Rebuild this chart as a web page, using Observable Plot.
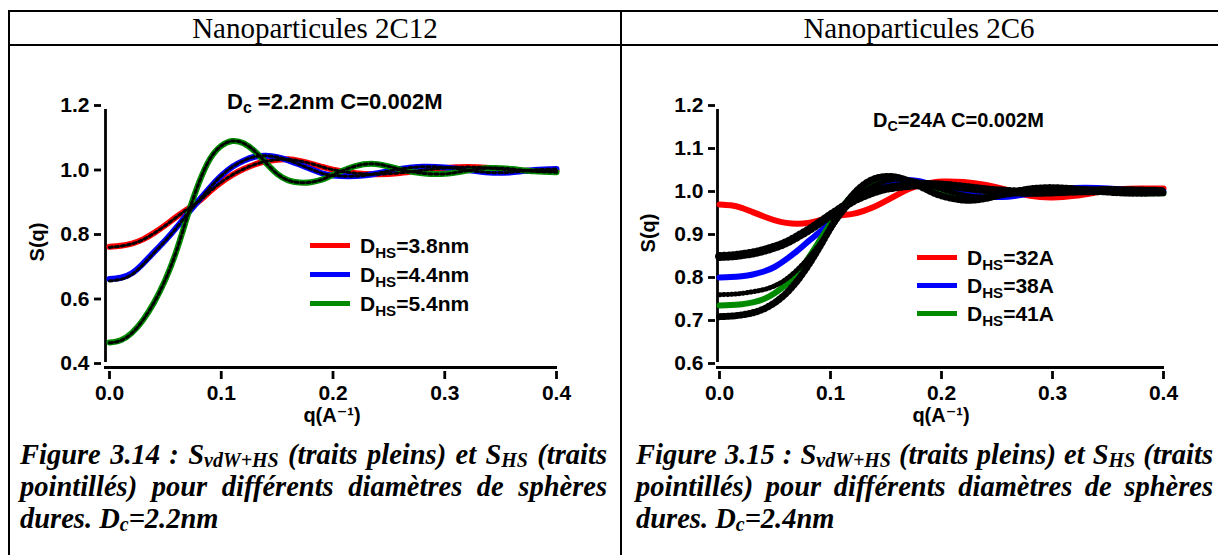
<!DOCTYPE html>
<html><head><meta charset="utf-8">
<script src="https://cdn.jsdelivr.net/npm/d3@7"></script>
<script src="https://cdn.jsdelivr.net/npm/@observablehq/plot@0.6"></script>
<style>
html,body{margin:0;padding:0;background:#fff;}
#page{position:relative;width:1218px;height:555px;overflow:hidden;background:#fff;font-family:"Liberation Sans",Arial,sans-serif;color:#000;}
.hl{position:absolute;background:#000;height:2px;z-index:5;}
.vl{position:absolute;background:#000;width:2px;z-index:5;}
.head{position:absolute;top:11px;height:34px;line-height:34px;text-align:center;font-family:"Liberation Serif","Times New Roman",serif;font-size:29px;white-space:nowrap;}
.chart{position:absolute;top:50px;}
.chart svg g[aria-label*="tick"]{stroke-width:2.8px;}
.chart svg g[aria-label*="tick"] *{stroke-width:2.8px;}
.t{position:absolute;font-weight:bold;white-space:nowrap;line-height:1;}
.t sub{font-size:0.72em;vertical-align:-0.28em;line-height:0;}
.rot{transform:translate(-50%,-50%) rotate(-90deg);}
.qt{font-family:"Liberation Sans","DejaVu Sans",Arial,sans-serif;line-height:0.9;}
.legrow{position:absolute;display:flex;align-items:center;height:24px;}
.legrow .sw{width:40px;height:5px;}
.legrow .lt{margin-left:10px;font-weight:bold;font-size:21px;white-space:nowrap;line-height:1;}
.legrow sub{font-size:0.72em;vertical-align:-0.3em;line-height:0;}
.cap{position:absolute;font-family:"Liberation Serif","Times New Roman",serif;font-weight:bold;font-style:italic;font-size:28.5px;}
.cap div{height:32px;line-height:32px;white-space:nowrap;}
.cap div.j{text-align:justify;text-align-last:justify;}
.cap sub{font-size:0.7em;vertical-align:-0.15em;line-height:0;}
</style>
</head><body>
<div id="page">
  <div class="hl" style="left:8px;top:10px;width:1210px"></div>
  <div class="hl" style="left:8px;top:44px;width:1210px"></div>
  <div class="vl" style="left:8px;top:10px;height:545px"></div>
  <div class="vl" style="left:620px;top:10px;height:545px"></div>
  <div class="head" style="left:10px;width:610px">Nanoparticules 2C12</div>
  <div class="head" style="left:622px;width:594px">Nanoparticules 2C6</div>
  <div id="chartL" class="chart" style="left:12px"></div>
  <div id="chartR" class="chart" style="left:624px"></div>
  <div id="over"></div>
  <div class="cap" style="left:20px;top:439px;width:587px">
    <div class="j">Figure 3.14 : S<sub>vdW+HS</sub> (traits pleins) et S<sub>HS</sub> (traits</div>
    <div class="j">pointillés) pour différents diamètres de sphères</div>
    <div>dures. D<sub>c</sub>=2.2nm</div>
  </div>
  <div class="cap" style="left:636px;top:439px;width:577px">
    <div class="j">Figure 3.15 : S<sub>vdW+HS</sub> (traits pleins) et S<sub>HS</sub> (traits</div>
    <div class="j">pointillés) pour différents diamètres de sphères</div>
    <div>dures. D<sub>c</sub>=2.4nm</div>
  </div>
</div>
<script>
// ---------- data ----------
const xTicks = [0, 0.1, 0.2, 0.3, 0.4];
const yTicksL = [0.4, 0.6, 0.8, 1.0, 1.2];
const yTicksR = [0.6, 0.7, 0.8, 0.9, 1.0, 1.1, 1.2];

const qGrid = [0,0.01,0.02,0.03,0.04,0.05,0.06,0.07,0.08,0.09,0.10,0.11,0.12,0.13,0.14,0.15,0.16,0.17,0.18,0.19,0.20,0.22,0.24,0.26,0.28,0.30,0.32,0.34,0.36,0.38,0.40];

// Left: Nanoparticules 2C12 (S_vdW+HS, solid)
const leftLabels = ["3.8nm", "4.4nm", "5.4nm"];
const leftRed   = [0.762,0.765,0.772,0.785,0.805,0.829,0.855,0.879,0.903,0.934,0.962,0.985,1.003,1.017,1.027,1.032,1.033,1.028,1.020,1.010,1.001,0.990,0.987,0.991,0.999,1.006,1.009,1.006,1.000,0.997,0.998];
const leftBlue  = [0.662,0.666,0.680,0.710,0.746,0.782,0.822,0.865,0.906,0.946,0.982,1.010,1.029,1.041,1.044,1.040,1.030,1.017,1.003,0.990,0.983,0.981,0.990,1.003,1.010,1.008,1.000,0.992,0.993,1.000,1.003];
const leftGreen = [0.465,0.472,0.495,0.535,0.590,0.660,0.750,0.860,0.960,1.035,1.075,1.090,1.083,1.058,1.022,0.988,0.968,0.961,0.962,0.970,0.985,1.012,1.018,1.002,0.990,0.988,0.998,1.006,1.003,0.996,0.993];
// Left: S_HS (dotted), nearly superimposed
const leftRedHS   = [0.760,0.764,0.771,0.784,0.804,0.828,0.854,0.879,0.903,0.934,0.962,0.985,1.003,1.017,1.027,1.032,1.033,1.028,1.020,1.010,1.001,0.990,0.987,0.991,0.999,1.006,1.009,1.006,1.000,0.997,0.998];
const leftBlueHS  = [0.656,0.661,0.676,0.707,0.744,0.781,0.821,0.865,0.906,0.946,0.982,1.010,1.029,1.041,1.044,1.040,1.030,1.017,1.003,0.990,0.983,0.981,0.990,1.003,1.010,1.008,1.000,0.992,0.993,1.000,1.003];
const leftGreenHS = [0.464,0.471,0.494,0.535,0.590,0.660,0.750,0.860,0.960,1.035,1.075,1.090,1.083,1.058,1.022,0.988,0.968,0.961,0.962,0.970,0.985,1.012,1.018,1.002,0.990,0.988,0.998,1.006,1.003,0.996,0.993];

// Right: Nanoparticules 2C6 (S_vdW+HS, solid)
const rightLabels = ["32A", "38A", "41A"];
const rightRed   = [0.970,0.968,0.962,0.952,0.942,0.933,0.927,0.925,0.927,0.933,0.940,0.945,0.948,0.955,0.965,0.978,0.992,1.005,1.014,1.020,1.023,1.022,1.015,1.003,0.990,0.986,0.990,0.998,1.005,1.007,1.007];
const rightBlue  = [0.800,0.801,0.803,0.807,0.814,0.825,0.842,0.862,0.884,0.905,0.928,0.954,0.980,1.000,1.012,1.021,1.026,1.027,1.024,1.016,1.008,0.996,0.988,0.988,0.995,1.003,1.008,1.008,1.005,1.001,1.000];
const rightGreen = [0.735,0.736,0.738,0.742,0.750,0.764,0.784,0.810,0.845,0.885,0.925,0.962,0.992,1.013,1.026,1.033,1.032,1.026,1.016,1.004,0.994,0.984,0.986,0.997,1.006,1.008,1.005,1.001,0.998,0.996,0.996];
// Right: S_HS (black, cross markers)
const rightHS1 = [0.849,0.850,0.853,0.857,0.863,0.871,0.881,0.895,0.910,0.927,0.945,0.962,0.978,0.990,1.000,1.007,1.011,1.014,1.016,1.016,1.015,1.010,1.004,1.000,0.998,0.999,1.001,1.002,1.002,1.001,1.000];
const rightHS2 = [0.760,0.761,0.763,0.767,0.772,0.781,0.796,0.818,0.845,0.877,0.912,0.948,0.978,1.000,1.015,1.024,1.028,1.027,1.022,1.014,1.005,0.992,0.988,0.992,1.000,1.005,1.006,1.004,1.000,0.998,0.998];
const rightHS3 = [0.709,0.710,0.713,0.718,0.727,0.742,0.763,0.792,0.828,0.870,0.915,0.958,0.992,1.016,1.030,1.035,1.033,1.025,1.013,1.000,0.990,0.980,0.984,0.996,1.006,1.009,1.006,1.001,0.997,0.996,0.997];

const colors = ["#ff0000", "#0000ff", "#008a00"];

// ---------- helpers ----------
const rows = arr => qGrid.map((q, i) => ({q, S: arr[i]}));
const fmt = d3.format(".1f");
const font = "'Liberation Sans', Arial, sans-serif";

function axes(yTicks, yMin, yMax, offX) {
  return [
    Plot.axisY({ticks: yTicks, tickFormat: fmt, tickSize: 7, tickPadding: 5, strokeWidth: 2.8, dx: -offX, label: null}),
    Plot.axisX({ticks: xTicks, tickFormat: fmt, tickSize: 8, tickPadding: 6, strokeWidth: 2.8, dy: 4, label: null}),
    Plot.ruleX([0], {y1: yMin, y2: yMax, dx: -offX, insetBottom: -4, insetTop: -1, strokeWidth: 2.8}),
    Plot.ruleY([yMin], {x1: 0, x2: 0.4, dy: 4, insetLeft: -offX - 1, insetRight: -1, strokeWidth: 2.8})
  ];
}

const styleObj = {background: "transparent", fontFamily: font, fontSize: "21px", fontWeight: "bold", color: "#000", overflow: "visible"};

// ---------- left chart ----------
const leftSolid = [leftRed, leftBlue, leftGreen];
const leftHS = [leftRedHS, leftBlueHS, leftGreenHS];
const chartL = Plot.plot({
  width: 606, height: 380,
  marginLeft: 93, marginRight: 62, marginTop: 55, marginBottom: 63,
  x: {domain: [0, 0.4], insetLeft: 4},
  y: {domain: [0.4, 1.2], insetBottom: 4},
  axis: null,
  style: styleObj,
  marks: [
    ...axes(yTicksL, 0.4, 1.2, 4),
    ...leftSolid.map((s, i) => Plot.line(rows(s), {x: "q", y: "S", stroke: colors[i], strokeWidth: 6, curve: "natural"})),
    ...leftHS.map(s => Plot.line(rows(s), {x: "q", y: "S", stroke: "#000", strokeWidth: 3, strokeDasharray: "3,3", curve: "natural"}))
  ]
});
document.getElementById("chartL").append(chartL);

// ---------- right chart ----------
const rightSolid = [rightRed, rightBlue, rightGreen];
const hsStyles = [
  {arr: rightHS1, w: 9, base: 2.5, dash: "1,3.2"},
  {arr: rightHS2, w: 5, base: 1, dash: "0.9,3"},
  {arr: rightHS3, w: 7, base: 1.8, dash: "1,3.2"}
];
const chartR = Plot.plot({
  width: 594, height: 380,
  marginLeft: 93, marginRight: 55, marginTop: 55, marginBottom: 63,
  x: {domain: [0, 0.4], insetLeft: 2},
  y: {domain: [0.6, 1.2], insetBottom: 4},
  axis: null,
  style: styleObj,
  marks: [
    ...axes(yTicksR, 0.6, 1.2, 2),
    ...rightSolid.map((s, i) => Plot.line(rows(s), {x: "q", y: "S", stroke: colors[i], strokeWidth: 6, curve: "natural"})),
    ...hsStyles.flatMap(h => [
      Plot.line(rows(h.arr), {x: "q", y: "S", stroke: "#000", strokeWidth: h.base, curve: "natural"}),
      Plot.line(rows(h.arr), {x: "q", y: "S", stroke: "#000", strokeWidth: h.w, strokeDasharray: h.dash, curve: "natural"})
    ])
  ]
});
document.getElementById("chartR").append(chartR);

// ---------- overlays: axis titles, annotations, legends ----------
const over = document.getElementById("over");
function addT(html, css, cls) {
  const d = document.createElement("div");
  d.className = "t " + (cls || "");
  d.innerHTML = html;
  d.setAttribute("style", css);
  over.append(d);
  return d;
}
addT("S(q)", "left:37px;top:242px;font-size:20px;", "rot");
addT("S(q)", "left:648px;top:233px;font-size:20px;", "rot");
addT("q(A\u207B\u00B9)", "left:332px;top:415px;font-size:20px;transform:translate(-50%,-50%);", "qt");
addT("q(A\u207B\u00B9)", "left:941px;top:415px;font-size:20px;transform:translate(-50%,-50%);", "qt");
addT("D<sub>c</sub> =2.2nm C=0.002M", "left:227px;top:91px;font-size:22px;");
addT("D<sub>C</sub>=24A C=0.002M", "left:873px;top:110px;font-size:20px;");
function legend(x, y0, dy, labels) {
  labels.forEach((lab, i) => {
    const r = document.createElement("div");
    r.className = "legrow";
    r.style.left = x + "px";
    r.style.top = (y0 + i * dy - 12) + "px";
    r.innerHTML = `<div class="sw" style="background:${colors[i]}"></div><div class="lt">D<sub>HS</sub>=${lab}</div>`;
    over.append(r);
  });
}
legend(310, 245, 29, leftLabels);
legend(917, 257, 28, rightLabels);
</script>
</body></html>
